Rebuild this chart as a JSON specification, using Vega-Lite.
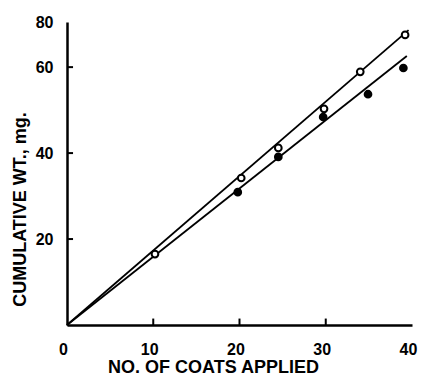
{
  "$schema": "https://vega.github.io/schema/vega-lite/v6.json",
  "width": 345,
  "height": 303,
  "autosize": "none",
  "padding": {"left": 67, "top": 22, "right": 13, "bottom": 50},
  "background": "white",
  "config": {
    "view": {"stroke": null},
    "font": "Liberation Sans",
    "axis": {"grid": false, "domainColor": "black", "domainWidth": 2.5, "ticks": false, "labelColor": "black", "titleColor": "black"}
  },
  "datasets": {
    "pts": [
      {"coats": 10.2, "wt": 16.5, "series": "open"},
      {"coats": 20.2, "wt": 34.2, "series": "open"},
      {"coats": 24.5, "wt": 41.2, "series": "open"},
      {"coats": 29.8, "wt": 50.3, "series": "open"},
      {"coats": 34.0, "wt": 58.9, "series": "open"},
      {"coats": 39.2, "wt": 67.5, "series": "open"},
      {"coats": 19.8, "wt": 30.9, "series": "filled"},
      {"coats": 24.5, "wt": 39.1, "series": "filled"},
      {"coats": 29.7, "wt": 48.4, "series": "filled"},
      {"coats": 34.9, "wt": 53.7, "series": "filled"},
      {"coats": 39.0, "wt": 59.8, "series": "filled"}
    ],
    "fits": [
      {"coats": 0, "wt": 0, "series": "open"},
      {"coats": 39.6, "wt": 68.6, "series": "open"},
      {"coats": 0, "wt": 0, "series": "filled"},
      {"coats": 39.4, "wt": 62.6, "series": "filled"}
    ],
    "ticks": [
      {"coats": 10, "coats2": 10, "wt": 0, "wt2": 1.5},
      {"coats": 20, "coats2": 20, "wt": 0, "wt2": 1.5},
      {"coats": 30, "coats2": 30, "wt": 0, "wt2": 1.5},
      {"coats": 0, "coats2": 0.7, "wt": 20, "wt2": 20},
      {"coats": 0, "coats2": 0.7, "wt": 40, "wt2": 40},
      {"coats": 0, "coats2": 0.7, "wt": 60, "wt2": 60}
    ]
  },
  "encoding": {
    "x": {
      "field": "coats", "type": "quantitative",
      "scale": {"domain": [0, 40], "nice": false, "zero": false},
      "axis": {
        "title": "NO. OF COATS APPLIED", "values": [0, 10, 20, 30, 40],
        "labelPadding": 16, "labelOffset": -4,
        "labelFontSize": 16, "labelFontWeight": "bold", "labelFlush": false,
        "titleFontSize": 18, "titleFontWeight": "bold",
        "titleAnchor": "middle", "titleX": 146, "titleY": 47, "titleBaseline": "alphabetic"
      }
    },
    "y": {
      "field": "wt", "type": "quantitative",
      "scale": {"domain": [0, 70.5], "nice": false, "zero": false},
      "axis": {
        "title": "CUMULATIVE WT., mg.", "values": [20, 40, 60, 70.5],
        "labelExpr": "datum.value > 65 ? '80' : datum.label",
        "labelPadding": 14,
        "labelFontSize": 16, "labelFontWeight": "bold", "labelFlush": false,
        "titleFontSize": 18, "titleFontWeight": "bold",
        "titleAnchor": "middle", "titleX": -47, "titleY": 187, "titleBaseline": "middle"
      }
    }
  },
  "layer": [
    {
      "data": {"name": "ticks"},
      "mark": {"type": "rule", "color": "black", "strokeWidth": 2},
      "encoding": {
        "x2": {"field": "coats2"},
        "y2": {"field": "wt2"}
      }
    },
    {
      "data": {"name": "fits"},
      "mark": {"type": "line", "color": "black", "strokeWidth": 1.8},
      "encoding": {"detail": {"field": "series"}}
    },
    {
      "data": {"name": "pts"},
      "mark": {"type": "point", "shape": "circle", "size": 45, "strokeWidth": 2, "opacity": 1},
      "encoding": {
        "fill": {"field": "series", "type": "nominal", "scale": {"domain": ["open", "filled"], "range": ["white", "black"]}, "legend": null},
        "stroke": {"value": "black"}
      }
    }
  ]
}
